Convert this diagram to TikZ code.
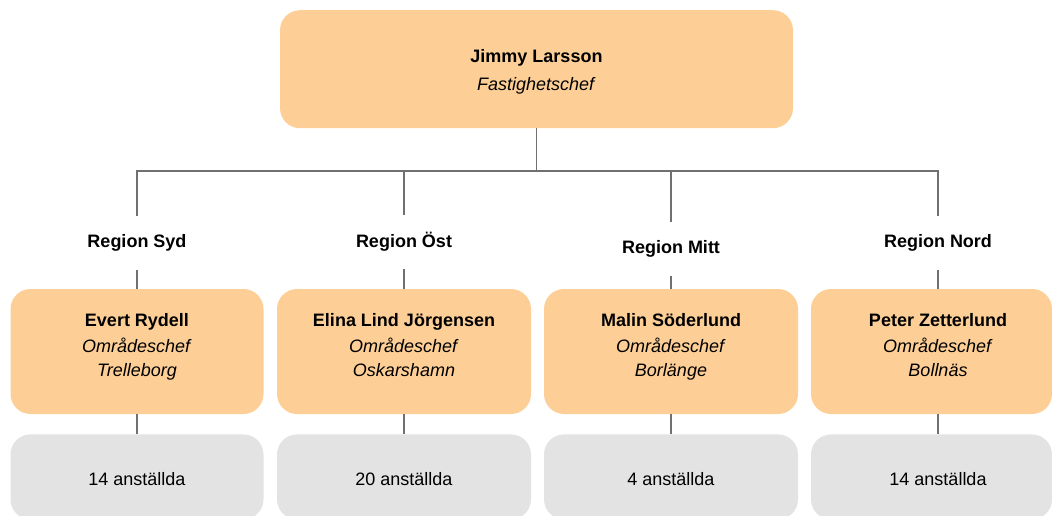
\documentclass[tikz,border=0pt]{standalone}
\usepackage{fontspec}
\setmainfont{Liberation Sans}
\usepackage{tikz}
\usetikzlibrary{positioning}

\definecolor{chieforange}{HTML}{FDCF96}
\definecolor{staffgray}{HTML}{E3E3E3}
\definecolor{linegray}{HTML}{707070}

\begin{document}
\begin{tikzpicture}[
	x=1pt, y=-1pt,
	font=\fontsize{18}{23.5}\selectfont,
	chiefbox/.style={rectangle, rounded corners=20pt, fill=chieforange, minimum width=254pt, minimum height=125pt, inner sep=0pt},
	staffbox/.style={rectangle, rounded corners=20pt, fill=staffgray, minimum width=254pt, minimum height=85pt, inner sep=0pt},
	boxtext/.style={align=center, inner sep=0pt},
	regionlbl/.style={font=\fontsize{18}{23.5}\selectfont\bfseries, minimum height=54pt, inner sep=0pt},
	link/.style={draw=linegray, line width=1.1pt}
]
	\useasboundingbox (0,0) rectangle (1052,516);
	\clip (0,0) rectangle (1052,516);

	\node (chief) [chiefbox, minimum width=513pt, minimum height=118pt] at (536.5,69.2) {};
	\node (chief name) [boxtext, yshift=-2.5pt] at (chief) {\textbf{Jimmy Larsson}\\[4.5pt]\textit{Fastighetschef}};

	\node (syd region) [regionlbl] at (137,243) {Region Syd};
	\node (ost region) [regionlbl] at (404,242) {Region Öst};
	\node (mitt region) [regionlbl] at (671,249) {Region Mitt};
	\node (nord region) [regionlbl] at (938,243) {Region Nord};

	\node (syd) [chiefbox, minimum width=253pt] at (137,351.5) {};
	\node (ost) [chiefbox] at (404,351.5) {};
	\node (mitt) [chiefbox] at (671,351.5) {};
	\node (nord) [chiefbox, minimum width=241pt] at (931.5,351.5) {};

	\node (syd name) [boxtext, yshift=5pt] at (syd region |- syd) {\textbf{Evert Rydell}\\[3pt]\textit{Områdeschef}\\\textit{Trelleborg}};
	\node (ost name) [boxtext, yshift=6.5pt] at (ost region |- ost) {\textbf{Elina Lind Jörgensen}\\[3pt]\textit{Områdeschef}\\\textit{Oskarshamn}};
	\node (mitt name) [boxtext, yshift=5pt] at (mitt region |- mitt) {\textbf{Malin Söderlund}\\[3pt]\textit{Områdeschef}\\\textit{Borlänge}};
	\node (nord name) [boxtext, yshift=6.8pt] at (nord region |- nord) {\textbf{Peter Zetterlund}\\[3pt]\textit{Områdeschef}\\\textit{Bollnäs}};

	\node (syd staff) [staffbox, minimum width=253pt, below=20pt of syd] {};
	\node (ost staff) [staffbox, below=20pt of ost] {};
	\node (mitt staff) [staffbox, below=20pt of mitt] {};
	\node (nord staff) [staffbox, minimum width=241pt, below=20pt of nord] {};

	\node (syd count) [yshift=-2pt] at (syd region |- syd staff) {14 anställda};
	\node (ost count) [yshift=-2pt] at (ost region |- ost staff) {20 anställda};
	\node (mitt count) [yshift=-2pt] at (mitt region |- mitt staff) {4 anställda};
	\node (nord count) [yshift=-2pt] at (nord region |- nord staff) {14 anställda};

	\coordinate (syd top) at (137,171);
	\coordinate (nord top) at (938,171);

	\draw [link] (chief) -- (chief |- syd top);
	\draw [link] (syd region) -- (syd top) -- (nord top) -- (nord region);
	\draw [link] (ost region) -- (ost region |- syd top);
	\draw [link] (mitt region) -- (mitt region |- syd top);

	\draw [link] (syd region) -- (syd region |- syd.north);
	\draw [link] (ost region) -- (ost region |- ost.north);
	\draw [link] (mitt region) -- (mitt region |- mitt.north);
	\draw [link] (nord region) -- (nord region |- nord.north);

	\draw [link] (syd region |- syd.south) -- (syd region |- syd staff.north);
	\draw [link] (ost region |- ost.south) -- (ost region |- ost staff.north);
	\draw [link] (mitt region |- mitt.south) -- (mitt region |- mitt staff.north);
	\draw [link] (nord region |- nord.south) -- (nord region |- nord staff.north);

\end{tikzpicture}
\end{document}
